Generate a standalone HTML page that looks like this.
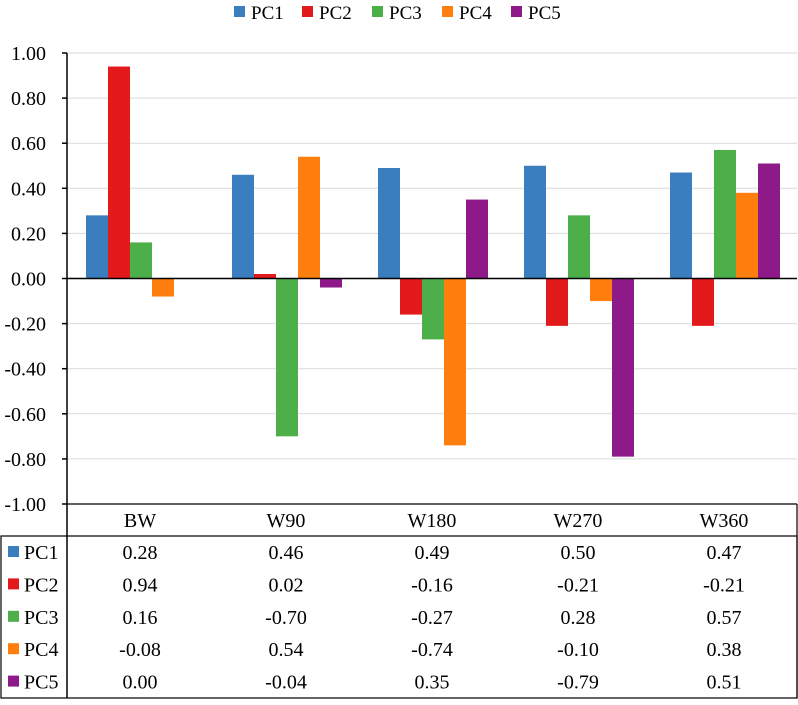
<!DOCTYPE html>
<html><head><meta charset="utf-8"><style>
body{margin:0;background:#fff;}
svg text{font-family:"Liberation Serif",serif;fill:#000;}
</style></head><body>
<svg id="c" width="798" height="700"></svg>
<script>
const categories=["BW","W90","W180","W270","W360"];
const seriesNames=["PC1","PC2","PC3","PC4","PC5"];
const colors=["#3a7ebf","#e31a1c","#4daf4a","#ff7f0e","#8e1a8a"];
const pc1=[0.28,0.46,0.49,0.50,0.47];
const pc2=[0.94,0.02,-0.16,-0.21,-0.21];
const pc3=[0.16,-0.70,-0.27,0.28,0.57];
const pc4=[-0.08,0.54,-0.74,-0.10,0.38];
const pc5=[0.00,-0.04,0.35,-0.79,0.51];
const series=[pc1,pc2,pc3,pc4,pc5];
const yTicks=[1,0.8,0.6,0.4,0.2,0,-0.2,-0.4,-0.6,-0.8,-1];
const NS="http://www.w3.org/2000/svg";
const svg=document.getElementById('c');
const X0=67,X1=797,Y0=53,Y1=504;
function y(v){return Y0+(1-v)/2*(Y1-Y0);}
function cx(i){return X0+(i+0.5)*(X1-X0)/categories.length;}
function mk(t,a,p){const e=document.createElementNS(NS,t);for(const k in a)e.setAttribute(k,a[k]);(p||svg).appendChild(e);return e;}
yTicks.forEach(v=>{
  if(v!==0&&v!==-1){const g=mk('line',{x1:X0,x2:X1,y1:y(v),y2:y(v),stroke:'#d9d9d9','stroke-width':1});
  
  }
  const tk=mk('line',{x1:62,x2:X0,y1:y(v),y2:y(v),stroke:'#000','stroke-width':1.5});
  
  
  const t=mk('text',{x:46,y:y(v)+7,'text-anchor':'end','font-size':20});
  t.textContent=v.toFixed(2);
  
  
});
const bw=22;
series.forEach((s,si)=>{s.forEach((v,ci)=>{
  const x=cx(ci)-54+si*bw;
  const r=mk('rect',{x:x,y:Math.min(y(v),y(0)),width:bw,height:Math.abs(y(v)-y(0)),fill:colors[si]});
  
  
});});
mk('line',{x1:X0,x2:X1,y1:y(0),y2:y(0),stroke:'#000','stroke-width':1.5});
mk('line',{x1:X0,x2:X0,y1:Y0,y2:698,stroke:'#000','stroke-width':1.5});
mk('line',{x1:X0,x2:X1,y1:Y1,y2:Y1,stroke:'#000','stroke-width':1.2});
mk('line',{x1:X1,x2:X1,y1:Y1,y2:698,stroke:'#000','stroke-width':1.2});
mk('rect',{x:1,y:536,width:796,height:162,fill:'none',stroke:'#000','stroke-width':1.2});
categories.forEach((c,ci)=>{
  const t=mk('text',{x:cx(ci),y:527,'text-anchor':'middle','font-size':20});
  t.textContent=c;
  
  
});
const rowH=32.4;
series.forEach((s,si)=>{
  const ry=552+si*rowH;
  mk('rect',{x:8,y:ry-6,width:11,height:11,fill:colors[si]});
  const l=mk('text',{x:24,y:ry+7,'font-size':20});
  l.textContent=seriesNames[si];
  
  
  s.forEach((v,ci)=>{
    const t=mk('text',{x:cx(ci),y:ry+7,'text-anchor':'middle','font-size':20});
    t.textContent=v.toFixed(2);
    
    
  });
});
const lx=[234,302,372,442,511];
seriesNames.forEach((n,si)=>{
  mk('rect',{x:lx[si],y:6,width:11,height:11,fill:colors[si]});
  const t=mk('text',{x:lx[si]+17,y:19,'font-size':19});
  t.textContent=n;
  
  
});
</script>
</body></html>
